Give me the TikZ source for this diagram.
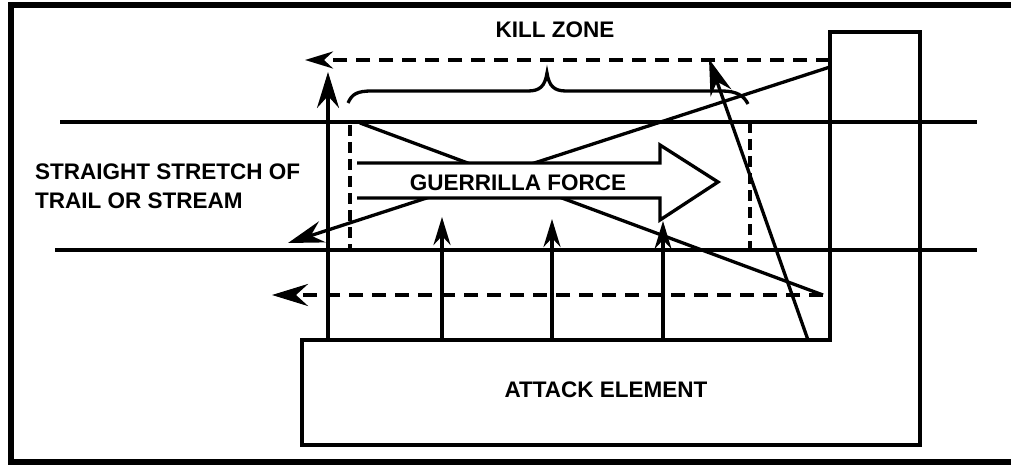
\documentclass[tikz,border=0pt]{standalone}
\usepackage{fontspec}
\setmainfont{Liberation Sans}
\usetikzlibrary{arrows.meta}
\begin{document}
\begin{tikzpicture}[x=1pt,y=-1pt,
  ln/.style={line width=3.3pt},
  dsh/.style={line width=3.6pt, dash pattern=on 14pt off 9pt},
  vdsh/.style={line width=3.2pt, dash pattern=on 11pt off 6pt},
  tip/.style={-{Stealth[length=28pt,width=17pt,inset=9pt]}},
  bigtip/.style={-{Stealth[length=36pt,width=22pt,inset=12pt]}},
  lbl/.style={font=\fontsize{22.5}{28}\selectfont\bfseries, inner sep=0pt}]
\useasboundingbox (0,0) rectangle (1011,465);
% frame
\fill (8,2) rectangle (1011,8);
\fill (8,2) rectangle (14,465);
\fill (8,459) rectangle (1011,465);
% coordinates
\coordinate (tl1) at (60,122);  \coordinate (tr1) at (977,122);
\coordinate (tl2) at (55,250);  \coordinate (tr2) at (977,250);
% trail lines
\draw[ln] (tl1) -- (tr1);
\draw[ln] (tl2) -- (tr2);
% tower and attack element outline
\draw[ln,line width=3.6pt] (830,340) -- (830,32) -- (920,32) -- (920,445) -- (302,445) -- (302,340) -- cycle;
% dashed verticals of kill zone
\draw[vdsh] (350,125) -- (350,250);
\draw[vdsh] (750,122) -- (750,250);
% top dashed arrow
\coordinate (dt1) at (830,60); \coordinate (dt2) at (305,60);
\draw[dsh,tip] (dt1) -- (dt2);
% bottom dashed arrow
\coordinate (db1) at (823,295); \coordinate (db2) at (272,295);
\draw[dsh,bigtip] (db1) -- (db2);
% brace
\draw[ln] (348,103) .. controls (352,94) and (357,91) .. (372,91) -- (528,91)
  .. controls (540,91) and (545,86) .. (547,73)
  .. controls (549,86) and (554,91) .. (566,91) -- (722,91)
  .. controls (737,91) and (744,96) .. (748,104);
% left vertical arrow
\coordinate (lv1) at (328,340); \coordinate (lv2) at (328,72);
\draw[ln,bigtip] (lv1) -- (lv2);
% three arrows
\coordinate (a1) at (442,340); \coordinate (a1t) at (442,217);
\coordinate (a2) at (552,340); \coordinate (a2t) at (552,219);
\coordinate (a3) at (663,340); \coordinate (a3t) at (663,221);
\draw[ln,tip] (a1) -- (a1t);
\draw[ln,tip] (a2) -- (a2t);
\draw[ln,tip] (a3) -- (a3t);
% diagonals
\coordinate (d1a) at (360,123); \coordinate (d1b) at (823,295);
\draw[ln] (d1a) -- (d1b);
\coordinate (d2a) at (830,67); \coordinate (d2b) at (288,243);
\draw[ln,bigtip] (d2a) -- (d2b);
\coordinate (d3a) at (808,340); \coordinate (d3b) at (709,59);
\draw[ln,bigtip] (d3a) -- (d3b);
% guerrilla force arrow
\fill[white] (357,163) -- (660,163) -- (660,145) -- (718,182) -- (660,220) -- (660,198) -- (357,198) -- cycle;
\draw[ln,line join=miter] (357,163) -- (660,163) -- (660,145) -- (718,182) -- (660,220) -- (660,198) -- (357,198);
% labels
\node[lbl, anchor=base] (kz) at (555,38) {KILL ZONE};
\node[lbl, anchor=base] (gf) at (518,190) {GUERRILLA FORCE};
\node[lbl, anchor=base west] (ss1) at (35,180) {STRAIGHT STRETCH OF};
\node[lbl, anchor=base west] (ss2) at (35,208) {TRAIL OR STREAM};
\node[lbl, anchor=base] (ae) at (606,397) {ATTACK ELEMENT};
\end{tikzpicture}
\end{document}
